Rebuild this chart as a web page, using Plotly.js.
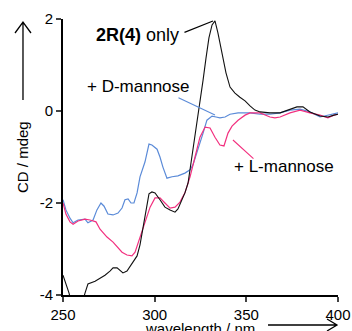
<!DOCTYPE html>
<html>
<head>
<meta charset="utf-8">
<script src="https://cdn.plot.ly/plotly-3.0.1.min.js"></script>
<style>html,body{margin:0;padding:0;background:#fff;}#chart{width:352px;height:331px;}</style>
</head>
<body>
<div id="chart"></div>
<script>
// 2R(4) only
const wlOnly = [250,251.6,253.3,254.9,259.3,262,263.6,267.5,270.2,272.9,275.6,277.3,279.5,281.1,282.7,284.9,286.5,288.2,290.4,292,293.6,295.3,296.9,298.5,300.2,302.9,305.6,308.4,311.1,312.7,314.9,316.5,318.2,319.3,320.9,322.5,324.7,326.4,328,329.6,331.3,332.9,334.5,336.7,338.9,341.1,343.8,346.5,349.3,352,354.7,357.5,362.9,368.4,373.8,377.6,380.9,384.7,390.2,394.5,397.8,400];
const cdOnly = [-3.57,-3.74,-3.96,-4.22,-4.33,-3.96,-3.76,-3.70,-3.63,-3.57,-3.48,-3.41,-3.41,-3.46,-3.52,-3.48,-3.39,-3.28,-3.15,-2.91,-2.54,-2.11,-1.80,-1.76,-1.78,-1.93,-2.09,-2.15,-2.20,-2.13,-1.93,-1.78,-1.57,-1.28,-0.85,-0.35,0.24,0.67,1.15,1.59,1.87,1.96,1.70,1.26,0.83,0.52,0.39,0.30,0.22,0.11,0.02,-0.02,-0.04,-0.04,0.04,0.09,0.09,-0.02,-0.11,-0.13,-0.09,-0.07];
// + D-mannose
const wlD = [250,251.6,253.8,255.5,258.2,262,263.6,266.4,268.5,270.7,272.4,274.5,277.3,280,282.2,283.8,285.5,287.1,288.7,290.4,292,294.7,296.9,298.5,301.3,302.9,304.5,306.7,309.5,312.7,316.5,319.3,320.9,323.1,324.7,326.4,328.5,331.3,333.5,335.6,338.4,341.1,345.5,352,357.5,362.9,368.4,373.8,379.3,384.7,390.2,394.5,397.8,400];
const cdD = [-1.93,-2.15,-2.33,-2.43,-2.37,-2.35,-2.43,-2.37,-2.15,-2.00,-2.07,-2.24,-2.26,-2.22,-2.11,-1.93,-1.91,-2.00,-2.00,-1.78,-1.43,-1.11,-0.72,-0.74,-0.83,-1.00,-1.22,-1.46,-1.43,-1.41,-1.35,-1.28,-1.17,-0.91,-0.70,-0.48,-0.20,-0.11,-0.13,-0.15,-0.13,-0.07,-0.04,-0.04,-0.07,-0.07,-0.04,0.02,0.04,-0.02,-0.13,-0.09,-0.07,-0.04];
// + L-mannose
const wlL = [250,251.6,253.8,255.5,258.2,262,264.7,268,270.2,274,277.3,280,282.2,284.9,287.6,289.3,292,294.7,297.5,300.2,302.9,305.6,308.4,311.1,313.8,316.5,319.3,322,324.7,327.5,330.2,332.9,335.6,337.8,340,342.2,345.5,349.3,352,357.5,362.9,365.6,368.4,373.8,379.3,384.7,390.2,394.5,397.8,400];
const cdL = [-2.00,-2.24,-2.41,-2.46,-2.39,-2.35,-2.37,-2.41,-2.57,-2.74,-2.85,-2.96,-3.07,-3.13,-3.15,-3.07,-2.74,-2.41,-2.09,-1.89,-1.89,-2.00,-2.11,-2.09,-1.98,-1.78,-1.43,-1.00,-0.57,-0.35,-0.37,-0.57,-0.74,-0.76,-0.48,-0.33,-0.20,-0.09,-0.04,-0.04,-0.13,-0.15,-0.13,-0.04,0.02,-0.04,-0.09,-0.15,-0.09,-0.07];

const xTicks = [250,300,350,400];
const yTicks = [2,0,-2,-4];
const yTickText = ["2","0","-2","-4"];

const FONT = "Liberation Sans, Arial, sans-serif";
const BLUE = "#5b8bd8", PINK = "#f2307f";

const traces = [
  {x: wlD, y: cdD, mode: "lines", line: {color: BLUE, width: 1.2}},
  {x: wlL, y: cdL, mode: "lines", line: {color: PINK, width: 1.2}},
  {x: wlOnly, y: cdOnly, mode: "lines", line: {color: "#111", width: 1.1}}
];

function leader(x, y, ax, ay, color) {
  return {x: x, y: y, xref: "x", yref: "y", text: "", showarrow: true, arrowhead: 0,
          arrowwidth: 1.1, arrowcolor: color, ax: ax, ay: ay, standoff: 0, startstandoff: 0};
}

const layout = {
  width: 352, height: 331,
  margin: {l: 63, r: 14, t: 19, b: 36},
  paper_bgcolor: "#fff", plot_bgcolor: "#fff",
  showlegend: false,
  font: {family: FONT, color: "#000", size: 15},
  xaxis: {range: [250, 400], tickvals: xTicks, ticks: "outside", ticklen: 5, tickwidth: 2,
          showline: true, linewidth: 2, linecolor: "#000", showgrid: false, zeroline: false,
          tickfont: {size: 15, family: FONT}},
  yaxis: {range: [-4, 2], tickvals: yTicks, ticktext: yTickText, ticks: "outside", ticklen: 5, tickwidth: 2,
          showline: true, linewidth: 2, linecolor: "#000", showgrid: false, zeroline: false,
          tickfont: {size: 15, family: FONT}},
  annotations: [
    {xref: "paper", yref: "paper", x: 0.271, y: 0.942, text: "<b>2R(4)</b> only", showarrow: false,
     font: {size: 18, family: FONT}, xanchor: "center", yanchor: "middle"},
    {xref: "paper", yref: "paper", x: 0.2745, y: 0.754, text: "+ D-mannose", showarrow: false,
     font: {size: 17, family: FONT}, xanchor: "center", yanchor: "middle"},
    {xref: "paper", yref: "paper", x: 0.802, y: 0.4656, text: "+ L-mannose", showarrow: false,
     font: {size: 17, family: FONT}, xanchor: "center", yanchor: "middle"},
    leader(331.8, 1.957, -30, 12, "#000"),
    leader(332.9, -0.087, -38, -18, BLUE),
    leader(342.7, -0.63, 22, 20, PINK),
    {xref: "paper", yref: "paper", x: -0.149, y: 0.50, text: "CD / mdeg", showarrow: false,
     textangle: -90, font: {size: 15, family: FONT}, xanchor: "center", yanchor: "middle"},
    {xref: "paper", yref: "paper", x: 0.498, y: -0.12, text: "wavelength / nm", showarrow: false,
     font: {size: 15, family: FONT}, xanchor: "center", yanchor: "middle"}
  ],
  shapes: [
    {type: "path", xref: "paper", yref: "paper",
     path: "M -0.1455 0.7065 L -0.1455 0.9891 M -0.1745 0.9493 L -0.1455 0.9891 L -0.1164 0.9493",
     line: {color: "#000", width: 1.3}},
    {type: "path", xref: "paper", yref: "paper",
     path: "M 0.7455 -0.1087 L 0.9964 -0.1087 M 0.96 -0.087 L 0.9964 -0.1087 L 0.96 -0.1304",
     line: {color: "#000", width: 1.3}}
  ]
};

Plotly.newPlot("chart", traces, layout, {displayModeBar: false, staticPlot: true});
</script>
</body>
</html>
